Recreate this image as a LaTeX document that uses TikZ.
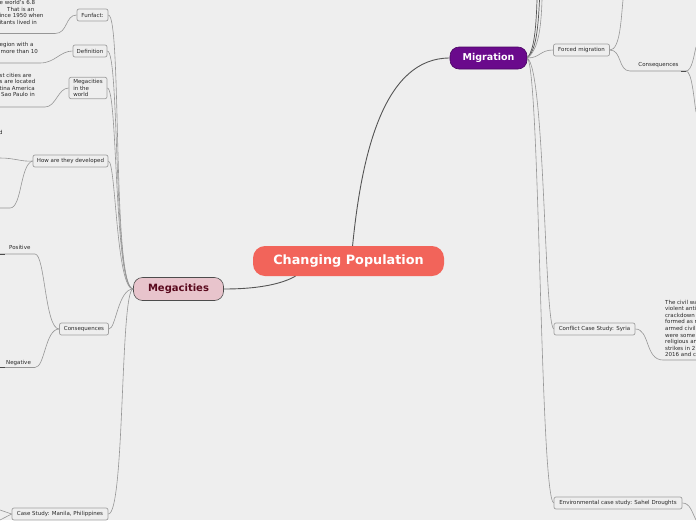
\documentclass[tikz,border=0pt]{standalone}
\usepackage{fontspec}
\setmainfont{DejaVu Sans}
\definecolor{bgc}{RGB}{238,238,238}
\definecolor{cpfill}{RGB}{242,100,90}
\definecolor{megafill}{RGB}{232,196,204}
\definecolor{megatext}{RGB}{90,10,30}
\definecolor{migfill}{RGB}{106,10,140}
\definecolor{boxline}{RGB}{160,160,160}
\definecolor{linkmain}{RGB}{85,85,85}
\definecolor{linksub}{RGB}{150,150,150}
\definecolor{txt}{RGB}{40,40,40}
\begin{document}
\begin{tikzpicture}[x=1pt,y=-1pt,
  every node/.style={font=\fontsize{5.5}{6.6}\selectfont, text=txt},
  central/.style={rounded corners=12pt, fill=cpfill, text=white, font=\fontsize{12.8}{15}\selectfont\bfseries, minimum width=191pt, minimum height=30pt, inner sep=0pt},
  mega/.style={rounded corners=9pt, draw=black!70, line width=0.6pt, fill=megafill, text=megatext, font=\fontsize{10}{12}\selectfont\bfseries, minimum width=90pt, minimum height=23pt, inner sep=0pt},
  migr/.style={rounded corners=9pt, draw=migfill!70!black, line width=0.6pt, fill=migfill, text=white, font=\fontsize{9.5}{11}\selectfont\bfseries, minimum width=77pt, minimum height=22pt, inner sep=0pt},
  subbox/.style={draw=boxline, fill=bgc, line width=0.7pt, rounded corners=2pt, minimum height=12pt, inner xsep=2.5pt, inner ysep=1pt},
  frag/.style={anchor=base west, inner sep=0pt},
  mainlink/.style={draw=linkmain, line width=0.9pt},
  sublink/.style={draw=linksub, line width=0.6pt},
  darkend/.style={draw=black!70, line width=1pt}
]
\fill[bgc] (0,0) rectangle (696,520);
\useasboundingbox (0,0) rectangle (696,520);
\clip (0,0) rectangle (696,520);

% main nodes
\node[central] (cp) at (348.5,261) {Changing Population};
\node[mega] (mc) at (178.5,289) {Megacities};
\node[migr] (mg) at (488.5,58) {Migration};

\draw[mainlink] (mc.east) .. controls (265,289) and (285,282) .. (cp.196);
\draw[mainlink] (cp.75) .. controls (362,150) and (385,58) .. (mg.west);

% Megacities children
\node[subbox, minimum width=31pt] (fun) at (92.5,15) {Funfact:};
\node[subbox, minimum width=34pt] (def) at (90,51) {Definition};
\node[subbox, minimum width=38pt, align=left, inner ysep=2pt] (mw) at (88,88) {Megacities\\in the\\world};
\node[subbox, minimum width=75pt] (how) at (70.5,161) {How are they developed};
\node[subbox, minimum width=49pt] (con) at (84,329) {Consequences};
\node[subbox, minimum width=96pt] (man) at (60,514) {Case Study: Manila, Philippines};

\draw[sublink] (mc.west) .. controls (112,289) and (122,15) .. (fun.east);
\draw[sublink] (mc.west) .. controls (113,289) and (120,51) .. (def.east);
\draw[sublink] (mc.west) .. controls (114,289) and (118,88) .. (mw.east);
\draw[sublink] (mc.west) .. controls (116,289) and (116,161) .. (how.east);
\draw[sublink] (mc.west) .. controls (118,289) and (116,329) .. (con.east);
\draw[sublink] (mc.west) .. controls (120,289) and (125,514) .. (man.east);

% Funfact leaf
\coordinate (f1) at (0,33.5);
\coordinate (f2) at (55,33.5);
\draw[sublink] (fun.west) .. controls (65,15) and (68,33.5) .. (f2) -- (f1);
\node[frag] (ft1) at (-0.5,4.5) {e world's 6.8};
\node[frag] (ft2) at (0,11) {\hspace*{7pt}That is an};
\node[frag] (ft3) at (-0.5,17.5) {ince 1950 when};
\node[frag] (ft4) at (-0.5,24) {itants lived in};

% Definition leaf
\coordinate (d1) at (0,63);
\coordinate (d2) at (40,63);
\draw[sublink] (def.west) .. controls (60,51) and (55,63) .. (d2) -- (d1);
\node[frag] (dt1) at (-0.5,46.5) {egion with a};
\node[frag] (dt2) at (0.5,53) {more than 10};

% Megacities in the world leaf
\coordinate (w1) at (0,107);
\coordinate (w2) at (45,107);
\draw[sublink] (mw.west) .. controls (58,88) and (56,107) .. (w2) -- (w1);
\node[frag] (wt1) at (-0.5,77) {st cities are};
\node[frag] (wt2) at (-0.5,83.5) {s are located};
\node[frag] (wt3) at (-0.5,90) {tina America};
\node[frag] (wt4) at (1,96.5) {Sao Paulo in};

% How are they developed
\node[frag] (hd) at (-1,134) {d};
\coordinate (h1) at (0,158);
\coordinate (h2) at (0,208);
\coordinate (h3) at (10,208);
\draw[sublink] (how.west) .. controls (22,162) and (15,158) .. (h1);
\draw[sublink] (how.west) .. controls (20,164) and (22,208) .. (h3) -- (h2);

% Consequences
\node[frag] (pos) at (9,249.5) {Positive};
\node[frag] (neg) at (6,364) {Negative};
\coordinate (p1) at (0,254);
\coordinate (p2) at (35,254);
\coordinate (p0) at (5,254);
\coordinate (n1) at (0,367.5);
\coordinate (n2) at (35,367.5);
\coordinate (n0) at (5,367.5);
\draw[sublink] (con.west) .. controls (45,329) and (45,254) .. (p2) -- (p1);
\draw[sublink] (con.west) .. controls (45,329) and (45,367.5) .. (n2) -- (n1);
\draw[darkend] (p1) -- (p0);
\draw[darkend] (n1) -- (n0);

% Case Study Manila
\coordinate (m1) at (0,510);
\coordinate (m2) at (0,520);
\draw[sublink] (man.west) -- (m1);
\draw[sublink] (man.west) -- (m2);

% Migration children
\node[subbox, minimum width=56pt] (fm) at (581.5,50) {Forced migration};
\node[subbox, minimum width=81pt] (cs) at (594.5,329) {Conflict Case Study: Syria};
\node[subbox, minimum width=128pt] (env) at (618,503) {Environmental case study: Sahel Droughts};

\coordinate (u1) at (537,0);
\coordinate (u2) at (539.5,0);
\coordinate (u3) at (542,0);
\draw[mainlink, line width=0.7pt] (mg.east) .. controls (534,50) and (536,30) .. (u1);
\draw[mainlink, line width=0.7pt] (mg.east) .. controls (536,50) and (538,30) .. (u2);
\draw[sublink] (mg.east) .. controls (538,50) and (541,30) .. (u3);
\draw[sublink] (mg.east) .. controls (540,58) and (540,50) .. (fm.west);
\draw[sublink] (mg.east) .. controls (545,70) and (544,320) .. (cs.west);
\draw[sublink] (mg.east) .. controls (540,70) and (540,495) .. (env.west);

% Forced migration children
\coordinate (fu) at (623,0);
\draw[sublink] (fm.east) .. controls (620,50) and (621,20) .. (fu);
\node (fcons) at (658.5,65) {Consequences};
\coordinate (c1) at (630,71);
\coordinate (c2) at (686,71);
\coordinate (c3) at (696,47);
\coordinate (c4) at (696,112);
\draw[sublink] (fm.east) .. controls (622,50) and (618,71) .. (c1) -- (c2);
\draw[sublink] (c2) .. controls (692,71) and (694,55) .. (c3);
\draw[sublink] (c2) .. controls (692,71) and (694,100) .. (c4);
\draw[darkend, line width=0.8pt] (681,71) -- (c2);

% Conflict leaf
\coordinate (s1) at (663,360);
\coordinate (s2) at (696,360);
\draw[sublink] (cs.east) .. controls (650,329) and (645,360) .. (s1) -- (s2);
\node[frag] (st1) at (665,304) {The civil wa};
\node[frag] (st2) at (665,310.6) {violent anti};
\node[frag] (st3) at (665,317.2) {crackdown};
\node[frag] (st4) at (665,323.8) {formed as r};
\node[frag] (st5) at (665,330.4) {armed civili};
\node[frag] (st6) at (665,337) {were some};
\node[frag] (st7) at (665,343.6) {religious an};
\node[frag] (st8) at (665,350.2) {strikes in 2};
\node[frag] (st9) at (665,356.8) {2016 and c};

% Environmental leaf
\coordinate (e1) at (696,520);
\draw[sublink] (env.east) .. controls (690,503) and (692,512) .. (e1);
\end{tikzpicture}
\end{document}
